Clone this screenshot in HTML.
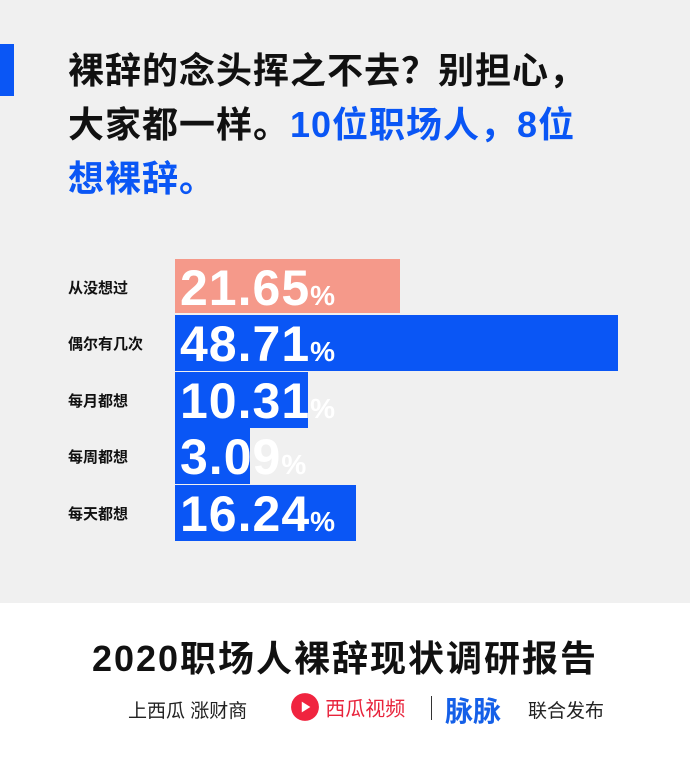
<!DOCTYPE html>
<html><head><meta charset="utf-8">
<style>
body{margin:0;width:690px;height:771px;background:#fff;font-family:"Liberation Sans","Noto Sans CJK SC",sans-serif;overflow:hidden;position:relative}
.top{position:absolute;left:0;top:0;width:690px;height:603px;background:#f0f0f0}
.accent{position:absolute;left:0;top:44px;width:14px;height:52px;background:#0a56f5}
.title{position:absolute;left:68px;top:44px;width:600px;font-size:36px;font-weight:bold;line-height:54px;color:#111;letter-spacing:1px;white-space:nowrap}
.title .b{color:#0a56f5}
.lbl{position:absolute;left:68px;font-size:15px;font-weight:bold;color:#111}
.bar{position:absolute;left:175px}
.val{position:absolute;left:180px;color:#fff;font-weight:bold;font-size:50px;line-height:56px;letter-spacing:1px;font-family:"Liberation Sans",sans-serif;white-space:nowrap}
.val span{font-size:28px;letter-spacing:0}
.foot{position:absolute;left:0;top:630px;width:690px;text-align:center;font-size:36px;font-weight:bold;color:#111;letter-spacing:2px}
.row{position:absolute;top:696px;font-size:19px;color:#222}
</style></head><body>
<div class="top"></div>
<div class="accent"></div>
<div class="title">裸辞的念头挥之不去？别担心，<br>大家都一样。<span class="b">10位职场人，8位<br>想裸辞。</span></div>
<div id="chart"></div>
<div class="foot">2020职场人裸辞现状调研报告</div>
<div class="row" style="left:128px">上西瓜 涨财商</div>
<div class="row" style="left:290px;top:692px"><svg width="30" height="30" viewBox="0 0 28 28" style="vertical-align:middle"><circle cx="14" cy="14" r="13" fill="#f0243f"/><path d="M11 9 L19 14 L11 19Z" fill="#fff"/></svg> <span style="color:#e8243c;font-size:20px;vertical-align:middle">西瓜视频</span></div>
<div style="position:absolute;left:431px;top:696px;width:1px;height:24px;background:#333"></div>
<div class="row" style="left:445px;top:690px;font-size:28px;color:#1560e8;font-weight:bold">脉脉</div>
<div class="row" style="left:528px">联合发布</div>
<script>
const categories=["从没想过","偶尔有几次","每月都想","每周都想","每天都想"];
const values=[21.65,48.71,10.31,3.09,16.24];
const colors=["#f5998a","#0a56f5","#0a56f5","#0a56f5","#0a56f5"];
function xw(v){return 50+8.07*v;}
const c=document.getElementById('chart');
categories.forEach((cat,i)=>{
  const top=259+i*56.4,h=i==0?54:56;
  const l=document.createElement('div');l.className='lbl';l.style.top=(top+18)+'px';l.textContent=cat;
  
  
  c.appendChild(l);
  const b=document.createElement('div');b.className='bar';b.style.top=top+'px';b.style.height=h+'px';b.style.width=xw(values[i])+'px';b.style.background=colors[i];
  
  
  c.appendChild(b);
  const v=document.createElement('div');v.className='val';v.style.top=(top+1)+'px';v.innerHTML=values[i].toFixed(2)+'<span>%</span>';
  
  
  c.appendChild(v);
});
</script>
</body></html>
